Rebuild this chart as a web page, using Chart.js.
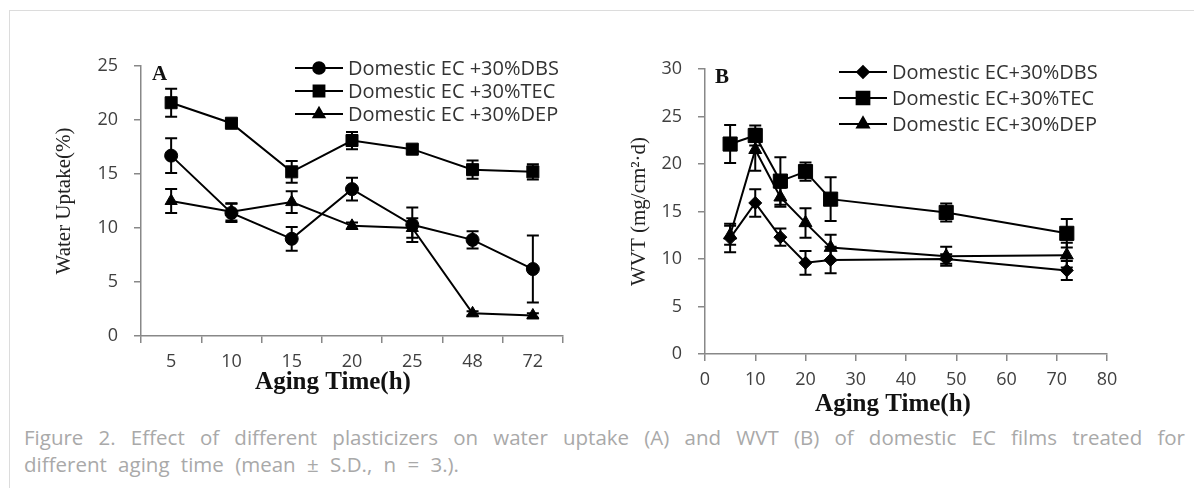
<!DOCTYPE html>
<html>
<head>
<meta charset="utf-8">
<script src="https://cdn.jsdelivr.net/npm/chart.js@4.4.1/dist/chart.umd.min.js"></script>
<style>
  html, body { margin: 0; padding: 0; background: #fff; }
  #page { position: relative; width: 1194px; height: 488px; overflow: hidden; }
  #frame { position: absolute; left: 9px; top: 10px; width: 1200px; height: 490px;
           border-top: 1px solid #dcdcdc; border-left: 1px solid #dcdcdc; }
  #chartA { position: absolute; left: 0; top: 0; }
  #chartB { position: absolute; left: 597px; top: 0; }
  #caption { position: absolute; left: 24px; top: 424px; width: 1161px;
             font-family: 'Open Sans'; font-size: 20.5px; line-height: 26.7px;
             word-spacing: 6px; color: #a9a9a9; }
  #caption .l1 { text-align: justify; text-align-last: justify; }
</style>
</head>
<body>
<div id="page">
  <div id="frame"></div>
  <canvas id="chartA" width="600" height="410"></canvas>
  <canvas id="chartB" width="597" height="420"></canvas>
  <div id="caption">
    <div class="l1">Figure 2. Effect of different plasticizers on water uptake (A) and WVT (B) of domestic EC films treated for</div>
    <div>different aging time (mean ± S.D., n = 3.).</div>
  </div>
</div>
<script>
// panel A - water uptake (%)
const agingLabels = ['5', '10', '15', '20', '25', '48', '72'];
const uptakeDBS = [16.7, 11.4, 9.0, 13.6, 10.3, 8.9, 6.2];
const uptakeDBSErr = [1.6, 0.85, 1.1, 1.05, 1.6, 0.8, 3.1];
const uptakeTEC = [21.6, 19.7, 15.2, 18.1, 17.3, 15.4, 15.2];
const uptakeTECErr = [1.3, 0.3, 1.0, 0.8, 0.4, 0.85, 0.7];
const uptakeDEP = [12.5, 11.5, 12.4, 10.2, 10.0, 2.1, 1.9];
const uptakeDEPErr = [1.1, 0.8, 1.0, 0.3, 0.9, 0.2, 0.2];

// panel B - WVT (mg/cm2·d)
const wvtHours = [5, 10, 15, 20, 25, 48, 72];
const wvtDBS = [12.2, 15.9, 12.3, 9.6, 9.9, 10.0, 8.8];
const wvtDBSErr = [1.5, 1.45, 0.9, 1.25, 1.4, 0.5, 1.0];
const wvtTEC = [22.1, 23.0, 18.2, 19.2, 16.3, 14.9, 12.7];
const wvtTECErr = [2.0, 1.05, 2.5, 0.95, 2.3, 0.95, 1.5];
const wvtDEP = [12.5, 21.5, 16.5, 13.8, 11.2, 10.3, 10.4];
const wvtDEPErr = [1.0, 2.2, 1.0, 1.55, 1.35, 1.0, 1.3];

const tickFont = { family: 'Open Sans', size: 18 };
const axisGrey = '#888';

// vertical error bars with caps, drawn from the y scale
const errorBars = {
  id: 'errorBars',
  beforeDatasetsDraw(chart) {
    const ctx = chart.ctx;
    const yScale = chart.scales.y;
    chart.data.datasets.forEach((ds, di) => {
      const meta = chart.getDatasetMeta(di);
      meta.data.forEach((pt, i) => {
        const v = meta.controller.getParsed(i).y;
        const e = ds.errors[i];
        const top = yScale.getPixelForValue(v + e);
        const bot = yScale.getPixelForValue(v - e);
        ctx.save();
        ctx.strokeStyle = '#000';
        ctx.lineWidth = 2;
        ctx.beginPath();
        ctx.moveTo(pt.x, top); ctx.lineTo(pt.x, bot);
        ctx.moveTo(pt.x - 6, top); ctx.lineTo(pt.x + 6, top);
        ctx.moveTo(pt.x - 6, bot); ctx.lineTo(pt.x + 6, bot);
        ctx.stroke();
        ctx.restore();
      });
    });
  }
};

// legend with line + marker samples, panel letter and x title
const sampleLegend = {
  id: 'sampleLegend',
  afterDraw(chart, args, o) {
    const ctx = chart.ctx;
    ctx.save();
    chart.data.datasets.forEach((ds, i) => {
      const y = o.y + i * o.gap;
      ctx.strokeStyle = '#000';
      ctx.fillStyle = '#000';
      ctx.lineWidth = 2;
      ctx.beginPath();
      ctx.moveTo(o.x, y); ctx.lineTo(o.x + o.len, y);
      ctx.stroke();
      Chart.helpers.drawPoint(ctx, { pointStyle: ds.pointStyle, radius: ds.pointRadius * 0.9, borderWidth: 1, rotation: 0 }, o.x + o.len / 2, y);
      ctx.fillStyle = '#333';
      ctx.font = '20px "Open Sans"';
      ctx.textBaseline = 'middle';
      ctx.textAlign = 'left';
      ctx.fillText(ds.label, o.x + o.len + 5, y + 1);
    });
    ctx.fillStyle = '#111';
    ctx.font = 'bold 21px "Liberation Serif"';
    ctx.textBaseline = 'alphabetic';
    ctx.fillText(o.letter, o.letterX, o.letterY);
    ctx.font = 'bold 25px "Liberation Serif"';
    ctx.textAlign = 'center';
    ctx.textBaseline = 'middle';
    ctx.fillText('Aging Time(h)', o.titleX, o.titleY);
    ctx.restore();
  }
};

function series(label, data, errors, style, radius) {
  return {
    label, data, errors,
    borderColor: '#000', backgroundColor: '#000', borderWidth: 2,
    pointStyle: style, pointRadius: radius, pointHoverRadius: radius,
    pointBackgroundColor: '#000', pointBorderColor: '#000', pointBorderWidth: 1,
    tension: 0, fill: false
  };
}

function yAxis(max, title, width) {
  return {
    min: 0, max: max,
    ticks: { stepSize: 5, font: tickFont, color: '#404040', padding: 16 },
    grid: { drawOnChartArea: false, tickLength: 7, color: axisGrey, lineWidth: 1.5 },
    border: { color: axisGrey, width: 1.5 },
    title: { display: true, text: title, font: { family: 'Liberation Serif', size: 21 }, color: '#222', padding: 0 },
    afterFit(s) { s.width = width; }
  };
}

new Chart(document.getElementById('chartA'), {
  type: 'line',
  data: {
    labels: agingLabels,
    datasets: [
      series('Domestic EC +30%DBS', uptakeDBS, uptakeDBSErr, 'circle', 6.5),
      series('Domestic EC +30%TEC', uptakeTEC, uptakeTECErr, 'rect', 8.5),
      series('Domestic EC +30%DEP', uptakeDEP, uptakeDEPErr, 'triangle', 7)
    ]
  },
  options: {
    responsive: false,
    animation: false,
    layout: { padding: { left: 52, right: 37, top: 66, bottom: 14 } },
    plugins: {
      legend: { display: false },
      tooltip: { enabled: false },
      sampleLegend: { x: 295, y: 68, gap: 23, len: 48, letter: 'A', letterX: 152, letterY: 80, titleX: 333, titleY: 383 }
    },
    scales: {
      x: {
        type: 'category', offset: true,
        ticks: { font: tickFont, color: '#404040', padding: 8, autoSkip: false, maxRotation: 0 },
        grid: { offset: true, drawOnChartArea: false, tickLength: 7, color: axisGrey, lineWidth: 1.5 },
        border: { color: axisGrey, width: 1.5 },
        afterFit(s) { s.height = 60; }
      },
      y: yAxis(25, 'Water Uptake(%)', 89)
    }
  },
  plugins: [errorBars, sampleLegend]
});

const pts = vals => wvtHours.map((h, i) => ({ x: h, y: vals[i] }));

new Chart(document.getElementById('chartB'), {
  type: 'line',
  data: {
    datasets: [
      series('Domestic EC+30%DBS', pts(wvtDBS), wvtDBSErr, 'rectRot', 6.5),
      series('Domestic EC+30%TEC', pts(wvtTEC), wvtTECErr, 'rect', 10),
      series('Domestic EC+30%DEP', pts(wvtDEP), wvtDEPErr, 'triangle', 7.5)
    ]
  },
  options: {
    responsive: false,
    animation: false,
    layout: { padding: { left: 30, right: 87, top: 69, bottom: 2 } },
    plugins: {
      legend: { display: false },
      tooltip: { enabled: false },
      sampleLegend: { x: 242, y: 72, gap: 26, len: 48, letter: 'B', letterX: 118, letterY: 83, titleX: 296, titleY: 405 }
    },
    scales: {
      x: {
        type: 'linear', min: 0, max: 80,
        ticks: { stepSize: 10, font: tickFont, color: '#404040', padding: 8, autoSkip: false, maxRotation: 0 },
        grid: { drawOnChartArea: false, tickLength: 7, color: axisGrey, lineWidth: 1.5 },
        border: { color: axisGrey, width: 1.5 },
        afterFit(s) { s.height = 64; }
      },
      y: yAxis(30, 'WVT (mg/cm\u00b2\u00b7d)', 78)
    }
  },
  plugins: [errorBars, sampleLegend]
});
</script>
</body>
</html>
